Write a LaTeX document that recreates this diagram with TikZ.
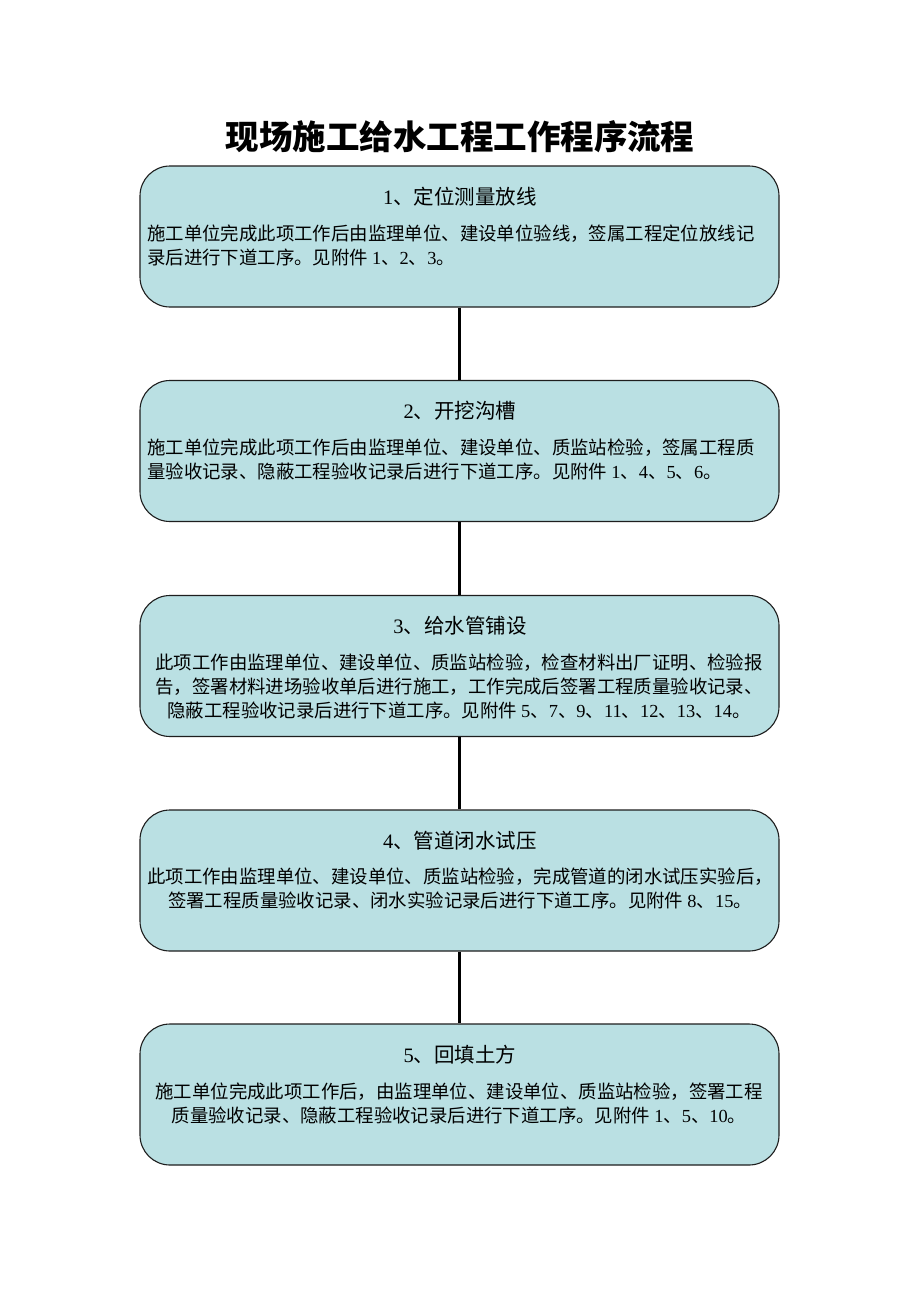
\documentclass[tikz,border=0pt]{standalone}
\usepackage{fontspec}
\setmainfont{Liberation Serif}
\newfontfamily\cjk{Noto Sans CJK SC}
\newcommand\dg[1]{{\rmfamily #1}}
\definecolor{boxfill}{RGB}{186,224,227}
\definecolor{boxline}{RGB}{30,30,30}
\begin{document}
\begin{tikzpicture}[x=1pt,y=-1pt,
  stepbox/.style={draw=boxline,line width=1.1pt,fill=boxfill,rounded corners=30pt,
    minimum width=639pt,minimum height=141pt,inner sep=0pt},
  headtext/.style={font=\cjk\fontsize{20.5}{24}\selectfont,inner sep=0pt},
  bodyl/.style={font=\cjk\fontsize{18.4}{24}\selectfont,align=left,inner sep=0pt,anchor=west},
  bodyc/.style={font=\cjk\fontsize{18.4}{24}\selectfont,align=center,inner sep=0pt},
  link/.style={line width=3pt,black}]
\useasboundingbox (0,0) rectangle (920,1302);
\fill[white] (0,0) rectangle (920,1302);
\node[font=\cjk\bfseries\fontsize{33.5}{40}\selectfont,inner sep=0pt] (title) at (460,137) {现场施工给水工程工作程序流程};

\node[stepbox] (b1) at (459.5,236.5) {};
\node[stepbox] (b2) at (459.5,451) {};
\node[stepbox] (b3) at (459.5,666) {};
\node[stepbox] (b4) at (459.5,880.5) {};
\node[stepbox] (b5) at (459.5,1094.5) {};

\draw[link] (b1.south) -- (b2.north);
\draw[link] (b2.south) -- (b3.north);
\draw[link] (b3.south) -- (b4.north);
\draw[link] (b4.south) -- (b5.north);

\node[headtext] (h1) at (460,197) {\dg{1}、定位测量放线};
\node[bodyl] (t1) at (147,245) {施工单位完成此项工作后由监理单位、建设单位验线，签属工程定位放线记\\录后进行下道工序。见附件 \dg{1}、\dg{2}、\dg{3}。};

\node[headtext] (h2) at (460,411) {\dg{2}、开挖沟槽};
\node[bodyl] (t2) at (147,459) {施工单位完成此项工作后由监理单位、建设单位、质监站检验，签属工程质\\量验收记录、隐蔽工程验收记录后进行下道工序。见附件 \dg{1}、\dg{4}、\dg{5}、\dg{6}。};

\node[headtext] (h3) at (460,626) {\dg{3}、给水管铺设};
\node[bodyc] (t3) at (459,686) {此项工作由监理单位、建设单位、质监站检验，检查材料出厂证明、检验报\\告，签署材料进场验收单后进行施工，工作完成后签署工程质量验收记录、\\隐蔽工程验收记录后进行下道工序。见附件 \dg{5}、\dg{7}、\dg{9}、\dg{11}、\dg{12}、\dg{13}、\dg{14}。};

\node[headtext] (h4) at (460,841) {\dg{4}、管道闭水试压};
\node[bodyc] (t4) at (460,888.5) {此项工作由监理单位、建设单位、质监站检验，完成管道的闭水试压实验后，\\签署工程质量验收记录、闭水实验记录后进行下道工序。见附件 \dg{8}、\dg{15}。};

\node[headtext] (h5) at (460,1055) {\dg{5}、回填土方};
\node[bodyc] (t5) at (459,1103) {施工单位完成此项工作后，由监理单位、建设单位、质监站检验，签署工程\\质量验收记录、隐蔽工程验收记录后进行下道工序。见附件 \dg{1}、\dg{5}、\dg{10}。};
\end{tikzpicture}
\end{document}
